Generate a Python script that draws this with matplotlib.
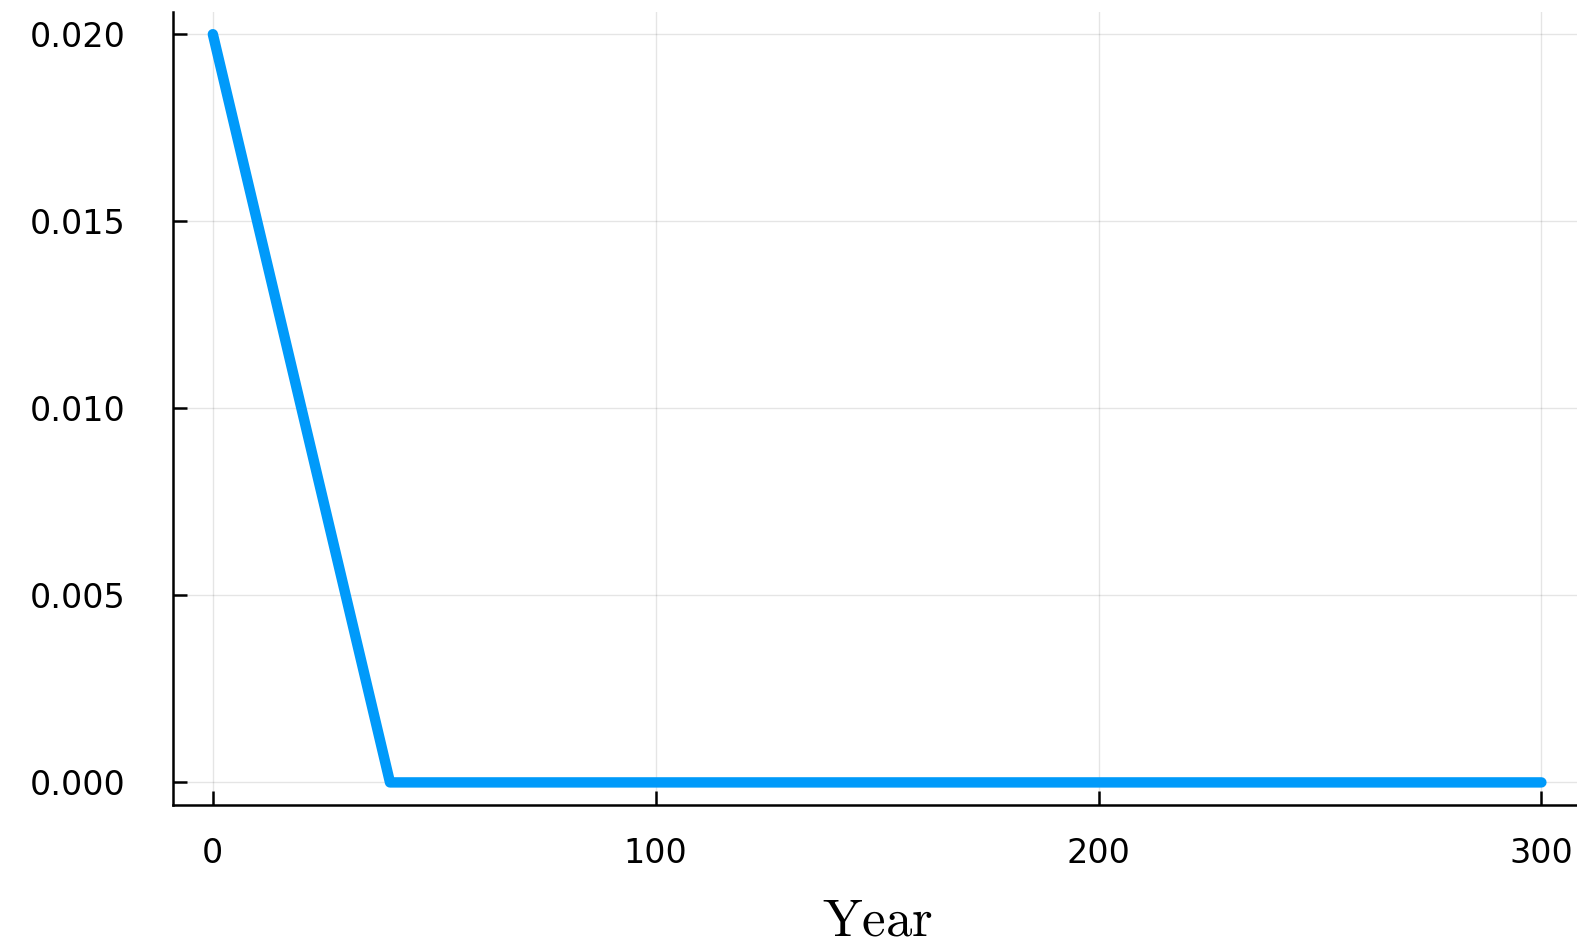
import matplotlib
matplotlib.use("Agg")
import matplotlib.pyplot as plt

plt.rcParams.update({
    "font.family": "DejaVu Sans",
    "mathtext.fontset": "cm",
})

# piecewise-linear path
years = [0, 40, 300]
values = [0.02, 0.0, 0.0]
xticks = [0, 100, 200, 300]
yticks = [0.000, 0.005, 0.010, 0.015, 0.020]

fig = plt.figure(figsize=(15.77, 9.48), dpi=100)
ax = fig.add_axes([0.1097, 0.151, 0.893, 0.8366])

ax.plot(years, values, color="#009AFA", lw=7.5, solid_capstyle="round",
        solid_joinstyle="round")

ax.set_xlim(-9, 309)
ax.set_ylim(-0.0006, 0.0206)
ax.set_xticks(xticks)
ax.set_xticklabels([str(t) for t in xticks])
ax.set_yticks(yticks)
ax.set_yticklabels([f"{t:.3f}" for t in yticks])

ax.grid(True, color="black", alpha=0.1, lw=1)
ax.set_axisbelow(True)
for s in ("top", "right"):
    ax.spines[s].set_visible(False)
for s in ("left", "bottom"):
    ax.spines[s].set_linewidth(1.8)

ax.tick_params(axis="both", direction="in", length=10, width=1.8,
               labelsize=24)
ax.tick_params(axis="y", pad=34)
ax.tick_params(axis="x", pad=23)

ax.set_xlabel(r"$\mathrm{Year}$", fontsize=38, labelpad=18)

fig.savefig("out.png", dpi=100)
